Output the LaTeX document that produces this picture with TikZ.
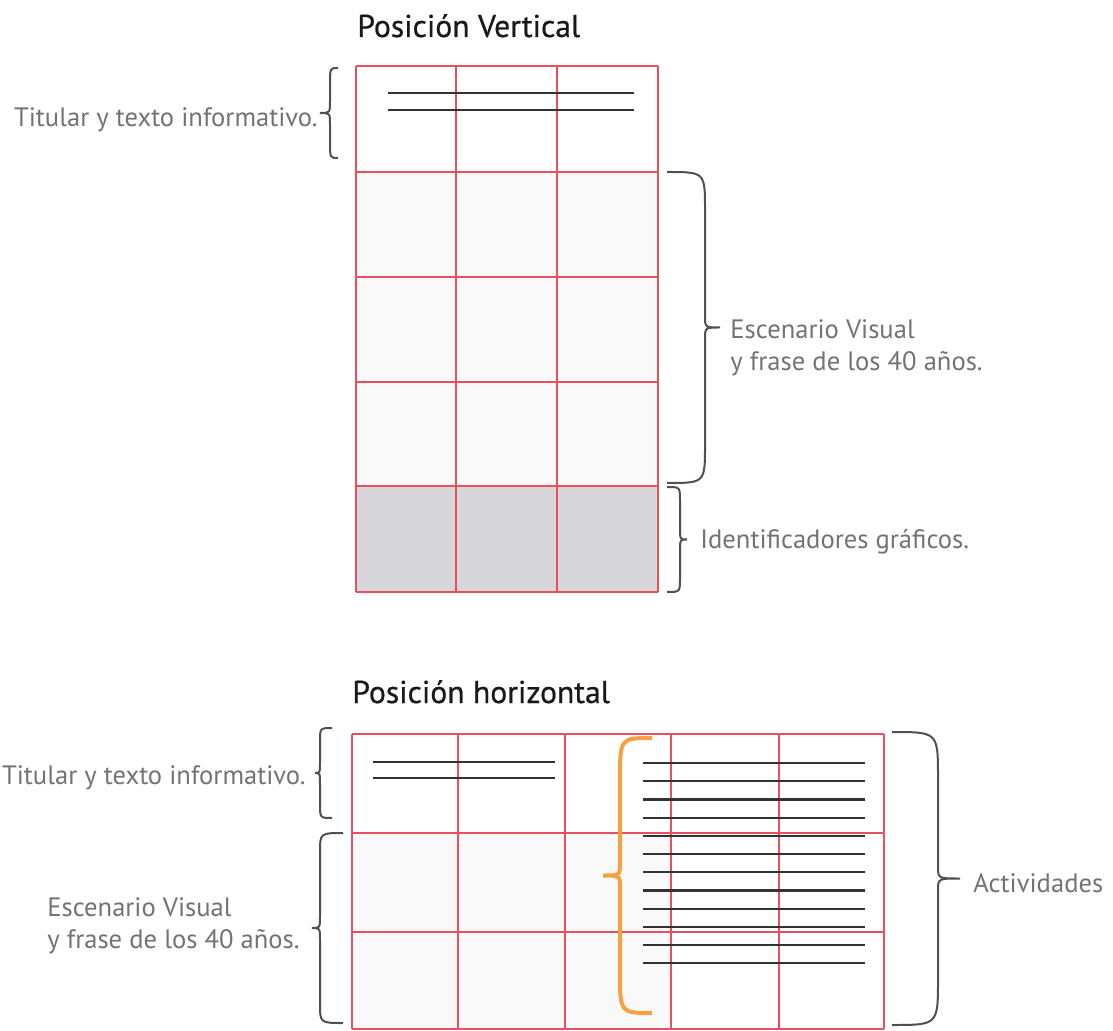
\documentclass[tikz,border=0pt]{standalone}
\usepackage{fontspec}
\setmainfont{PT Sans}
\newfontfamily\headfont{PT Sans}[FakeBold=0.6]
\usetikzlibrary{positioning}
\definecolor{gridred}{HTML}{E8505F}
\definecolor{labelgray}{HTML}{727277}
\definecolor{bracegray}{HTML}{505050}
\definecolor{bandorange}{HTML}{F4A340}
\definecolor{idgray}{HTML}{D6D6DB}

\tikzset{
  gridline/.style={gridred, line width=0.6pt},
  textline/.style={black!80, line width=1.1pt},
  curly/.style={bracegray, line width=1pt},
  label/.style={labelgray, font=\fontsize{13.3}{16}\selectfont, inner sep=0pt},
  heading/.style={black!90, font=\headfont\fontsize{15.8}{18}\selectfont, inner sep=0pt},
}

% [style] {x ends}{x bar}{x tip}{y top}{y bottom}{curl}
\newcommand{\vbrace}[7][]{%
  \draw[curly,#1] (#2,#5) .. controls (#3,#5) .. (#3,{#5+#7})
    -- (#3,{(#5+#6)/2-12}) .. controls (#3,{(#5+#6)/2}) .. (#4,{(#5+#6)/2})
    .. controls (#3,{(#5+#6)/2}) .. (#3,{(#5+#6)/2+12})
    -- (#3,{#6-#7}) .. controls (#3,#6) .. (#2,#6);}

\begin{document}
\begin{tikzpicture}[x=0.5pt,y=-0.5pt]
  \useasboundingbox (0,0) rectangle (1113,1031);

  % vertical sheet
  \fill[gray!5] (356,172) rectangle (658,486);
  \fill[idgray] (356,486) rectangle (658,592);
  \foreach \x in {356,456,557,658}
    \draw[gridline] (\x,66) -- (\x,592);
  \foreach \y in {66,172,277,382,486,592}
    \draw[gridline] (356,\y) -- (658,\y);
  \foreach \y in {93,110}
    \draw[textline] (388,\y) -- (634,\y);

  \node[heading, anchor=base west] (vtitle) at (357,37) {Posición Vertical};

  \vbrace{338}{330}{320}{68}{158}{16}
  \node[label, anchor=east] (vhead) at (318,120) {Titular y texto informativo.};
  \vbrace{667}{705}{720}{172}{483}{38}
  \node[label, anchor=west, align=left] (vscene) at (730,348)
    {Escenario Visual\\y frase de los 40 años.};
  \vbrace{667}{680}{687}{487}{592}{14}
  \node[label, anchor=west] (vid) at (700,542) {Identificadores gráficos.};

  % horizontal sheet
  \fill[gray!5] (352,833) rectangle (671,1029);
  \foreach \x in {352,458,565,671,779,884}
    \draw[gridline] (\x,734) -- (\x,1029);
  \foreach \y in {734,833,932,1029}
    \draw[gridline] (352,\y) -- (884,\y);
  \foreach \y in {762,778}
    \draw[textline] (373,\y) -- (555,\y);
  \foreach \i in {0,...,11}
    \draw[textline] (643,{763+18.2*\i}) -- (865,{763+18.2*\i});

  \node[heading, anchor=base west] (htitle) at (352,703) {Posición horizontal};

  \vbrace{332}{320}{315}{728}{818}{14}
  \node[label, anchor=east] (hhead) at (306,778) {Titular y texto informativo.};
  \vbrace{343}{320}{312}{833}{1023}{20}
  \node[label, anchor=east, align=left] (hscene) at (300,926)
    {Escenario Visual\\y frase de los 40 años.};
  \vbrace[bandorange, line width=2pt]{652}{620}{603}{738}{1013}{42}
  \vbrace{892}{938}{960}{732}{1025}{46}
  \node[label, anchor=west] (hact) at (973,883) {Actividades};
\end{tikzpicture}
\end{document}
